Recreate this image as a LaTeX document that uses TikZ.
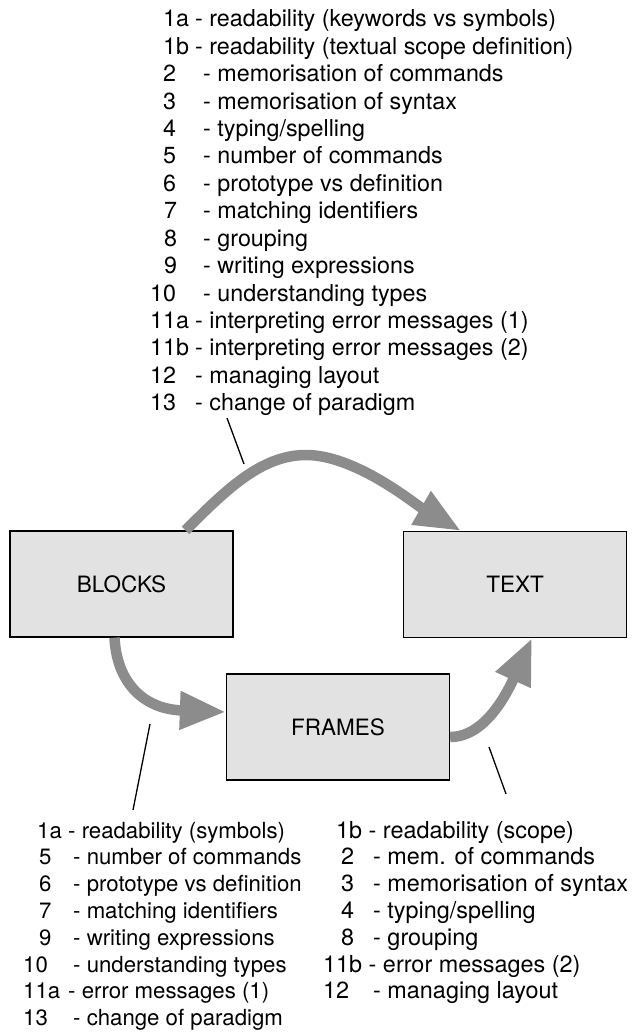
\documentclass[tikz,border=0pt]{standalone}
\usepackage{fontspec}
\setmainfont{TeX Gyre Heros}
\usetikzlibrary{arrows.meta}
\definecolor{boxfill}{RGB}{226,226,226}
\definecolor{arrgray}{RGB}{140,140,140}
\newcommand\entry[6]{\node[li] (#1) at (#2,#3) {\makebox[#4pt][l]{#5}- #6};}
\begin{document}
\begin{tikzpicture}[x=1pt,y=-1pt,
  box/.style={draw=black, line width=1.3pt, fill=boxfill, minimum width=223pt, minimum height=106pt, inner sep=0pt, font=\fontsize{22.5}{27}\selectfont},
  arr/.style={draw=arrgray, line width=10.5pt, -{Triangle[length=46pt,width=36pt]}},
  lead/.style={draw=black, line width=1.3pt},
  li/.style={anchor=base west, inner sep=0pt, font=\fontsize{23.3}{27}\selectfont},
  lib/.style={anchor=base west, inner sep=0pt, font=\fontsize{22.2}{27}\selectfont},
  lic/.style={anchor=base west, inner sep=0pt, font=\fontsize{23.4}{27}\selectfont}]
\useasboundingbox (0,0) rectangle (632,1032);
% boxes
\node[box] (blocks) at (121.5,584) {BLOCKS};
\node[box] (text) at (515,584.5) {TEXT};
\node[box] (frames) at (338,727) {FRAMES};
% top list
\entry{t1a}{163}{27}{32}{1a}{readability (keywords vs symbols)}
\entry{t1b}{163}{54.4}{32}{1b}{readability (textual scope definition)}
\entry{t2}{163}{81.8}{40}{2}{memorisation of commands}
\entry{t3}{163}{109.2}{40}{3}{memorisation of syntax}
\entry{t4}{163}{136.6}{40}{4}{typing/spelling}
\entry{t5}{163}{164}{40}{5}{number of commands}
\entry{t6}{163}{191.4}{40}{6}{prototype vs definition}
\entry{t7}{164}{218.8}{39}{7}{matching identifiers}
\entry{t8}{164}{246.2}{39}{8}{grouping}
\entry{t9}{164}{273.6}{39}{9}{writing expressions}
\entry{t10}{150}{301}{53}{10}{understanding types}
\entry{t11a}{150}{328.4}{45}{11a}{interpreting error messages (1)}
\entry{t11b}{150}{355.8}{45}{11b}{interpreting error messages (2)}
\entry{t12}{150}{383.2}{45}{12}{managing layout}
\entry{t13}{150}{410.6}{45}{13}{change of paradigm}
% bottom left list
\begin{scope}[li/.style={lib}]
\entry{b1a}{37}{838}{31}{1a}{readability (symbols)}
\entry{b5}{39}{864.8}{34}{5}{number of commands}
\entry{b6}{39}{891.6}{34}{6}{prototype vs definition}
\entry{b7}{39}{918.4}{34}{7}{matching identifiers}
\entry{b9}{39}{945.2}{34}{9}{writing expressions}
\entry{b10}{23}{972}{50}{10}{understanding types}
\entry{b11a}{23}{998.8}{45}{11a}{error messages (1)}
\entry{b13}{23}{1025.6}{50}{13}{change of paradigm}
\end{scope}
% bottom right list
\begin{scope}[li/.style={lic}]
\entry{r1b}{336}{838}{32.5}{1b}{readability (scope)}
\entry{r2}{341}{864.8}{32}{2}{mem. of commands}
\entry{r3}{341}{891.6}{32}{3}{memorisation of syntax}
\entry{r4}{341}{918.4}{32}{4}{typing/spelling}
\entry{r8}{341}{945.2}{32}{8}{grouping}
\entry{r11b}{323}{972}{45.5}{11b}{error messages (2)}
\entry{r12}{323}{998.8}{50}{12}{managing layout}
\end{scope}
% arrows
\coordinate (peak) at (306,455);
\draw[arr] ([xshift=64pt]blocks.north) .. controls +(40,-40) and +(-45,0) .. (peak)
  .. controls +(50,0) and +(-45,-26) .. ([xshift=58pt]text.north west);
\draw[arr] ([xshift=-7pt]blocks.south) .. controls +(2,42) and +(-85,-3) .. ([yshift=15pt]frames.west);
\draw[arr] ([yshift=-10pt]frames.east) .. controls +(35,0) and +(-25,55) .. ([xshift=17pt]text.south);
% leader lines
\coordinate (la1) at (227,418); \coordinate (la2) at (244,464);
\coordinate (lb1) at (150,724); \coordinate (lb2) at (133,810);
\coordinate (lc1) at (489,747); \coordinate (lc2) at (506,794);
\draw[lead] (la1) -- (la2);
\draw[lead] (lb1) -- (lb2);
\draw[lead] (lc1) -- (lc2);
\end{tikzpicture}
\end{document}
